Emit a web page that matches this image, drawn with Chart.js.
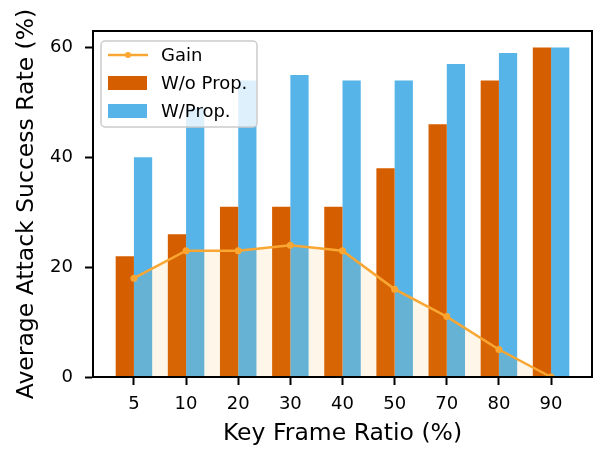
<!DOCTYPE html>
<html>
<head>
<meta charset="utf-8">
<script src="https://cdn.jsdelivr.net/npm/chart.js@4"></script>
<style>
  body { margin: 0; background: #fff; }
  canvas { display: block; }
</style>
</head>
<body>
<canvas id="grafico" width="600" height="449"></canvas>
<script>
// dados
const categorias = ["5", "10", "20", "30", "40", "50", "70", "80", "90"]
const semProp = [22, 26, 31, 31, 31, 38, 46, 54, 60]
const comProp = [40, 49, 54, 55, 54, 54, 57, 59, 60]
const ganho = [18, 23, 23, 24, 23, 16, 11, 5, 0]
const ticksY = [0, 20, 40, 60]

const FONTE = "'DejaVu Sans', sans-serif"
const LARANJA = "#D55E00"
const AZUL = "#56B4E9"
const LINHA = "#FAA632"

const pontos = (arr) => arr.map((v, i) => ({ x: i, y: v }))

// legenda estilo matplotlib, dentro da area do grafico
const legendaBox = {
  id: "legendaBox",
  afterDraw(chart) {
    const ctx = chart.ctx
    const a = chart.chartArea
    // moldura (spines) em volta
    ctx.save()
    ctx.strokeStyle = "#000"
    ctx.lineWidth = 2
    ctx.strokeRect(a.left, a.top, a.right - a.left, a.bottom - a.top)

    const x0 = 101, y0 = 41, w = 156, h = 86
    ctx.beginPath()
    ctx.roundRect(x0, y0, w, h, 4)
    ctx.fillStyle = "rgba(255,255,255,0.8)"
    ctx.fill()
    ctx.strokeStyle = "#cccccc"
    ctx.lineWidth = 1.5
    ctx.stroke()

    ctx.font = "18px " + FONTE
    ctx.fillStyle = "#000"
    ctx.textBaseline = "middle"

    // Gain
    ctx.strokeStyle = LINHA
    ctx.lineWidth = 2.5
    ctx.beginPath()
    ctx.moveTo(108, 55)
    ctx.lineTo(148, 55)
    ctx.stroke()
    ctx.beginPath()
    ctx.arc(128, 55, 3, 0, Math.PI * 2)
    ctx.fillStyle = LINHA
    ctx.fill()
    ctx.fillStyle = "#000"
    ctx.fillText(chart.data.datasets[0].label, 161, 56)

    ctx.fillStyle = LARANJA
    ctx.fillRect(108, 76, 39, 14)
    ctx.fillStyle = "#000"
    ctx.fillText(chart.data.datasets[1].label, 161, 84)

    ctx.fillStyle = AZUL
    ctx.fillRect(108, 104, 39, 14)
    ctx.fillStyle = "#000"
    ctx.fillText(chart.data.datasets[2].label, 161, 112)
    ctx.restore()
  }
}

new Chart(document.getElementById("grafico"), {
  type: "bar",
  data: {
    datasets: [
      {
        type: "line",
        label: "Gain",
        data: pontos(ganho),
        borderColor: LINHA,
        backgroundColor: "rgba(245,166,35,0.1)",
        borderWidth: 2.5,
        pointRadius: 3.5,
        pointBackgroundColor: LINHA,
        pointBorderWidth: 0,
        fill: "origin",
        tension: 0,
        order: 0
      },
      {
        label: "W/o Prop.",
        data: pontos(semProp),
        backgroundColor: LARANJA,
        categoryPercentage: 0.7,
        barPercentage: 1.0,
        order: 1
      },
      {
        label: "W/Prop.",
        data: pontos(comProp),
        backgroundColor: AZUL,
        categoryPercentage: 0.7,
        barPercentage: 1.0,
        order: 2
      }
    ]
  },
  options: {
    responsive: false,
    devicePixelRatio: 1,
    animation: false,
    layout: { padding: { top: 31, right: 8, left: 0, bottom: 0 } },
    plugins: {
      legend: { display: false },
      tooltip: { enabled: false }
    },
    scales: {
      x: {
        type: "linear",
        min: -0.785,
        max: 8.785,
        offset: false,
        afterBuildTicks: (s) => { s.ticks = categorias.map((c, i) => ({ value: i })) },
        afterFit: (s) => { s.height = 72 },
        grid: { display: true, offset: false, drawOnChartArea: false, drawTicks: true, tickLength: 8, tickWidth: 2, tickColor: "#000" },
        border: { display: true, color: "#000", width: 2 },
        ticks: {
          autoSkip: false,
          maxRotation: 0,
          padding: 9,
          color: "#000",
          font: { family: FONTE, size: 18 },
          callback: (v) => categorias[v]
        },
        title: {
          display: true,
          text: "Key Frame Ratio (%)",
          color: "#000",
          font: { family: FONTE, size: 23.5 },
          padding: { top: 0, bottom: 1 }
        }
      },
      y: {
        min: 0,
        max: 63,
        afterBuildTicks: (s) => { s.ticks = ticksY.map((v) => ({ value: v })) },
        afterFit: (s) => { s.width = 93 },
        grid: { display: true, drawOnChartArea: false, drawTicks: true, tickLength: 8, tickWidth: 2, tickColor: "#000" },
        border: { display: true, color: "#000", width: 2 },
        ticks: {
          padding: 12,
          color: "#000",
          font: { family: FONTE, size: 18 }
        },
        title: {
          display: true,
          text: "Average Attack Success Rate (%)",
          color: "#000",
          font: { family: FONTE, size: 23.5 },
          padding: { top: 13, bottom: 0 }
        }
      }
    }
  },
  plugins: [legendaBox]
})
</script>
</body>
</html>
